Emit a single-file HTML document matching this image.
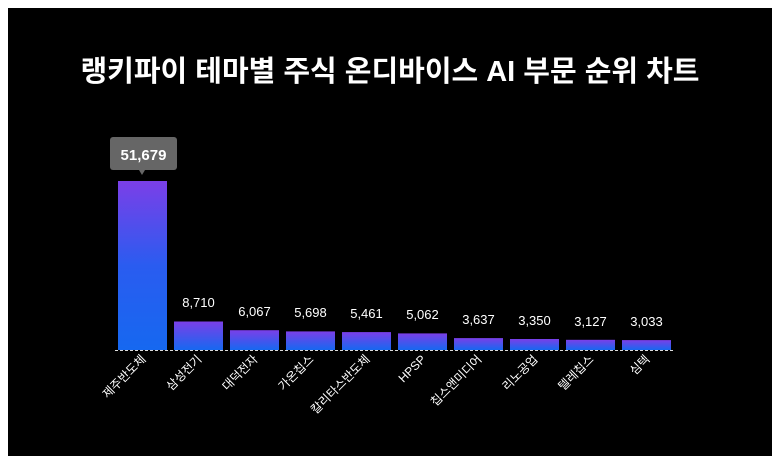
<!DOCTYPE html>
<html><head><meta charset="utf-8"><style>
html,body{margin:0;padding:0;background:#fff;width:780px;height:468px;overflow:hidden}
</style></head><body>
<svg width="780" height="468" xmlns="http://www.w3.org/2000/svg" font-family="'Liberation Sans','Noto Sans CJK KR',sans-serif">
<defs><linearGradient id="g" x1="0" y1="0" x2="0" y2="1"><stop offset="0" stop-color="#7b3fe8"/><stop offset="0.5" stop-color="#2a5cf0"/><stop offset="1" stop-color="#1668f0"/></linearGradient>
<linearGradient id="g2" x1="0" y1="0" x2="0" y2="1"><stop offset="0" stop-color="#7b3fe8"/><stop offset="1" stop-color="#1668f0"/></linearGradient></defs>
<rect x="8" y="8" width="764" height="448" fill="#000"/>
<text x="390" y="81" fill="#fff" font-size="29" font-weight="bold" text-anchor="middle">랭키파이 테마별 주식 온디바이스 AI 부문 순위 차트</text>
<rect x="118" y="181" width="49" height="169" fill="url(#g)"/>
<rect x="174" y="321.5" width="49" height="28.5" fill="url(#g2)"/>
<rect x="230" y="330.2" width="49" height="19.8" fill="url(#g2)"/>
<rect x="286" y="331.4" width="49" height="18.6" fill="url(#g2)"/>
<rect x="342" y="332.1" width="49" height="17.9" fill="url(#g2)"/>
<rect x="398" y="333.4" width="49" height="16.6" fill="url(#g2)"/>
<rect x="454" y="338.1" width="49" height="11.9" fill="url(#g2)"/>
<rect x="510" y="339" width="49" height="11" fill="url(#g2)"/>
<rect x="566" y="339.8" width="49" height="10.2" fill="url(#g2)"/>
<rect x="622" y="340.1" width="49" height="9.9" fill="url(#g2)"/>
<g fill="#fff" font-size="13" text-anchor="middle">
<text x="198.5" y="307">8,710</text>
<text x="254.5" y="316">6,067</text>
<text x="310.5" y="317">5,698</text>
<text x="366.5" y="318">5,461</text>
<text x="422.5" y="319">5,062</text>
<text x="478.5" y="324">3,637</text>
<text x="534.5" y="325">3,350</text>
<text x="590.5" y="326">3,127</text>
<text x="646.5" y="326">3,033</text>
</g>
<g fill="#fff" font-size="12" text-anchor="end">
<text transform="translate(146.5,360) rotate(-45)">제주반도체</text>
<text transform="translate(202.5,360) rotate(-45)">삼성전기</text>
<text transform="translate(258.5,360) rotate(-45)">대덕전자</text>
<text transform="translate(314.5,360) rotate(-45)">가온칩스</text>
<text transform="translate(370.5,360) rotate(-45)">칼리타스반도체</text>
<text transform="translate(426.5,360) rotate(-45)">HPSP</text>
<text transform="translate(482.5,360) rotate(-45)">칩스앤미디어</text>
<text transform="translate(538.5,360) rotate(-45)">리노공업</text>
<text transform="translate(594.5,360) rotate(-45)">텔레칩스</text>
<text transform="translate(650.5,360) rotate(-45)">심텍</text>
</g>
<line x1="115" y1="350.5" x2="673" y2="350.5" stroke="#ddd" stroke-dasharray="3,2"/>
<rect x="110" y="137" width="67" height="33" rx="3" fill="#666"/>
<path d="M139 170 L142 175 L145 170Z" fill="#666"/>
<text x="143.5" y="160" fill="#fff" font-size="15" font-weight="bold" text-anchor="middle">51,679</text>
</svg>
</body></html>
